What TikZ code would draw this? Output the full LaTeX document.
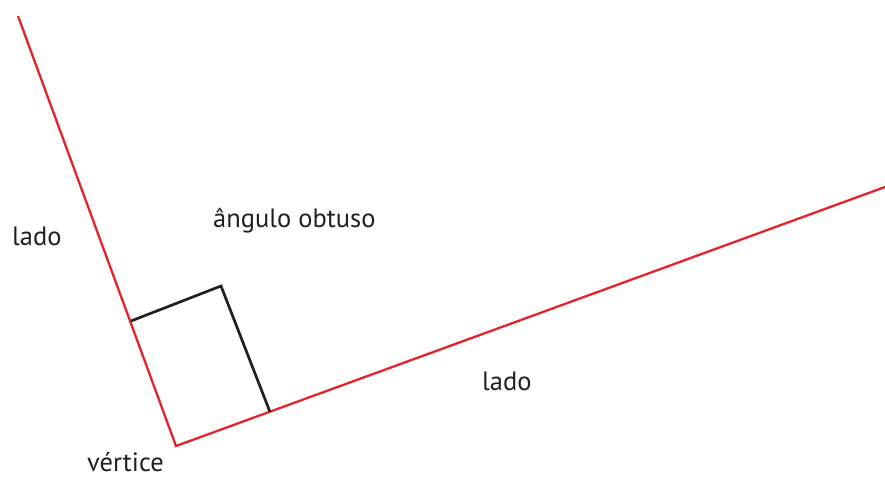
\documentclass[tikz,border=0pt]{standalone}
\usepackage{fontspec}
\setmainfont{PT Sans}
\usetikzlibrary{positioning}
\definecolor{ladored}{RGB}{230,35,40}
\definecolor{marktext}{RGB}{35,31,32}

\begin{document}
\begin{tikzpicture}[x=1pt,y=-1pt,
  lbl/.style={anchor=base west,inner sep=0pt,text=marktext,font=\fontsize{26.5}{30}\selectfont},
  side/.style={draw=ladored,line width=2.3pt},
  marker/.style={draw=marktext,line width=2.7pt}]
\useasboundingbox (0,0) rectangle (885,479);
\coordinate (vertex) at (176,446);
\coordinate (endA) at (18,16);
\coordinate (endB) at (885,187);
\coordinate (markA) at (131,321);
\coordinate (corner) at (221,286);
\coordinate (markB) at (270,412);

\draw[side] (endA) -- (vertex) -- (endB);
\draw[marker] (markA) -- (corner) -- (markB);

\node[lbl] (ladoA) at (12,245) {lado};
\node[lbl] (obtuso) at (213,227) {ângulo obtuso};
\node[lbl] (ladoB) at (482,390) {lado};
\node[lbl] (vert) at (87,471) {vértice};
\end{tikzpicture}
\end{document}
